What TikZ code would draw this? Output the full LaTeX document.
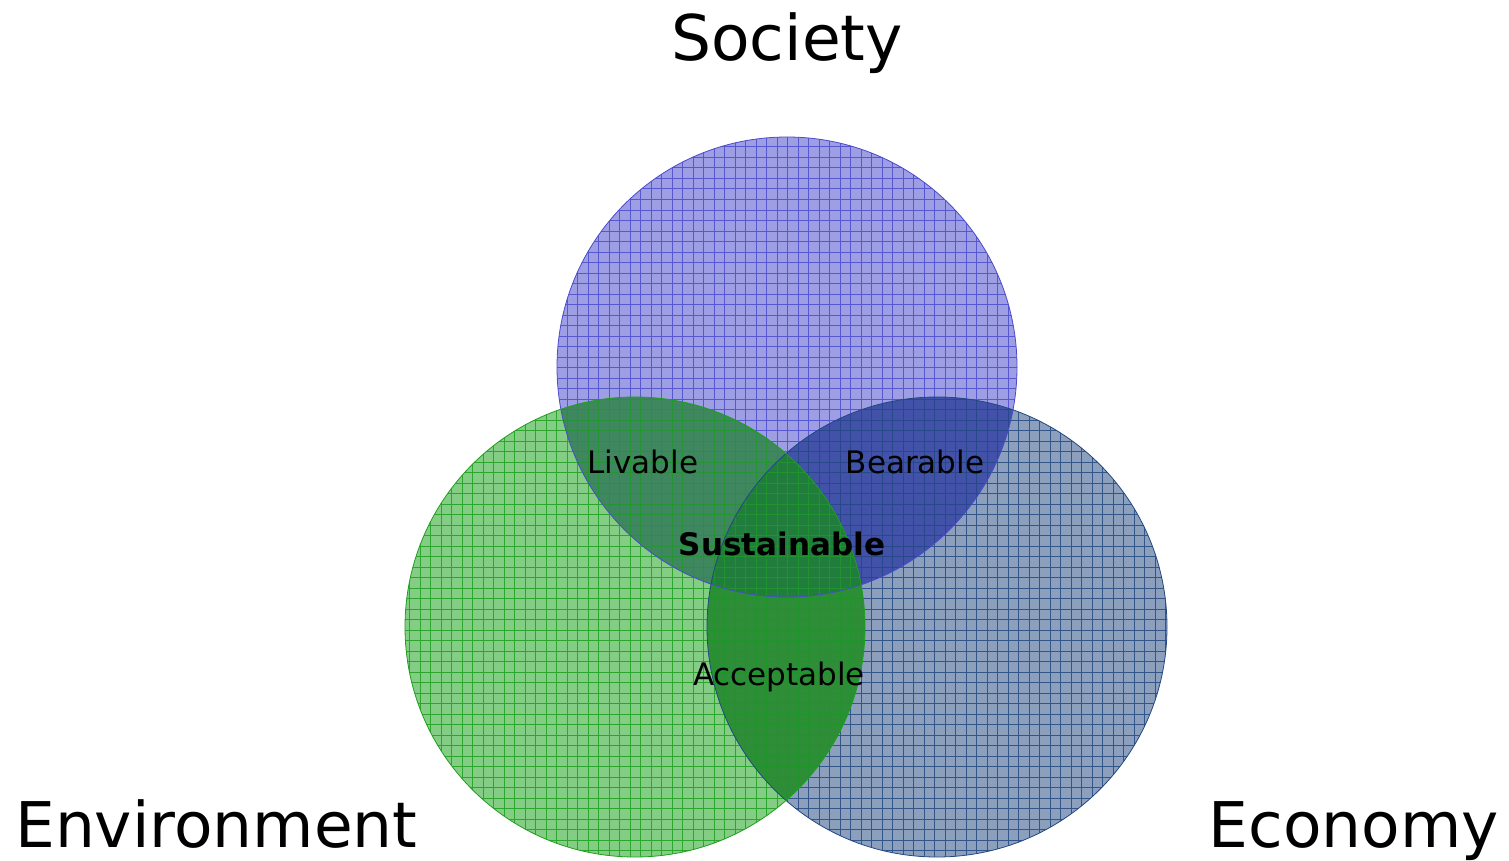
\documentclass[tikz,border=0pt]{standalone}
\usepackage{fontspec}
\setmainfont{DejaVu Sans}
\definecolor{socF}{RGB}{158,158,228}
\definecolor{socL}{RGB}{75,75,205}
\definecolor{ecoF}{RGB}{140,160,190}
\definecolor{ecoL}{RGB}{35,72,130}
\definecolor{envF}{RGB}{132,205,132}
\definecolor{envL}{RGB}{30,160,30}
\definecolor{bearF}{RGB}{65,82,168}
\definecolor{livF}{RGB}{62,135,95}
\definecolor{accF}{RGB}{45,142,55}
\definecolor{susF}{RGB}{32,125,60}
\tikzset{
  big/.style={font=\fontsize{63}{70}\selectfont, inner sep=0pt, text=black},
  small/.style={font=\fontsize{31}{36}\selectfont, inner sep=0pt, text=black},
  gridline/.style={line width=1pt, opacity=0.85},
  rim/.style={line width=0.8pt}
}
\begin{document}
\begin{tikzpicture}[x=1pt,y=-1pt]
\useasboundingbox (0,0) rectangle (1509,861);
\coordinate (S) at (787,367);
\coordinate (V) at (635,627);
\coordinate (E) at (937,627);
\def\R{230pt}
% base fills
\fill[socF] (S) circle[radius=\R];
\fill[ecoF] (E) circle[radius=\R];
\fill[envF] (V) circle[radius=\R];
% overlaps
\begin{scope}
  \clip (S) circle[radius=\R];
  \fill[bearF] (E) circle[radius=\R];
  \fill[livF] (V) circle[radius=\R];
\end{scope}
\begin{scope}
  \clip (E) circle[radius=\R];
  \fill[accF] (V) circle[radius=\R];
  \clip (V) circle[radius=\R];
  \fill[susF] (S) circle[radius=\R];
\end{scope}
% grids
\begin{scope}
  \clip (S) circle[radius=\R];
  \draw[socL, gridline, step=10.5pt] (550,130) grid (1025,600);
\end{scope}
\begin{scope}
  \clip (E) circle[radius=\R];
  \draw[ecoL, gridline, step=10.5pt] (700,390) grid (1175,861);
\end{scope}
\begin{scope}
  \clip (V) circle[radius=\R];
  \draw[envL, gridline, step=10.5pt] (400,390) grid (875,861);
\end{scope}
% rims
\draw[socL, rim] (S) circle[radius=\R];
\draw[ecoL, rim] (E) circle[radius=\R];
\draw[envL, rim] (V) circle[radius=\R];
% labels
\node[big, anchor=base] (society) at (787,61) {Society};
\node[big, anchor=base west] (environment) at (15,847) {Environment};
\node[big, anchor=base east] (economy) at (1499,847) {Economy};
\node[small, anchor=base] (livable) at (643,473) {Livable};
\node[small, anchor=base] (bearable) at (915,473) {Bearable};
\node[small, anchor=base, font=\fontsize{31}{36}\selectfont\bfseries] (sustainable) at (782,555) {Sustainable};
\node[small, anchor=base] (acceptable) at (779,685) {Acceptable};
\end{tikzpicture}
\end{document}
